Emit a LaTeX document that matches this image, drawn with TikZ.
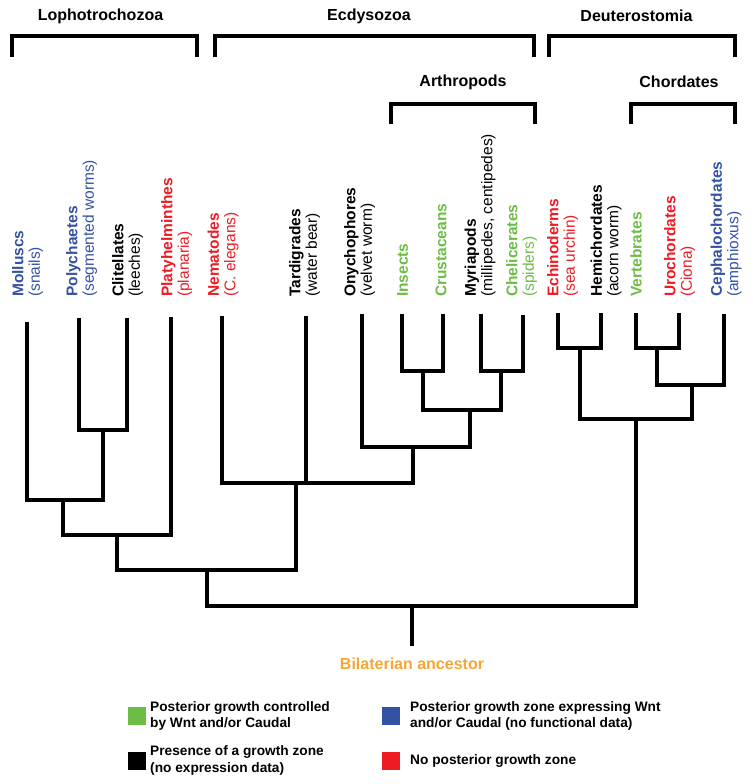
\documentclass[tikz,border=0pt]{standalone}
\usepackage{fontspec}
\setmainfont{Liberation Sans}
\usepackage{tikz}

\definecolor{growgreen}{RGB}{108,189,69}
\definecolor{growblue}{RGB}{52,82,163}
\definecolor{growred}{RGB}{237,28,36}
\definecolor{ancestor}{RGB}{246,166,52}

\begin{document}
\begin{tikzpicture}[x=1pt,y=-1pt,
	branch/.style={line width=4pt},
	bracket/.style={line width=4.5pt},
	taxon/.style={rotate=90,anchor=west,align=left,inner sep=0pt,font=\fontsize{15.5}{16.5}\selectfont},
	clade/.style={inner sep=0pt,font=\bfseries\fontsize{16}{19}\selectfont},
	key/.style={minimum size=18pt,inner sep=0pt},
	keytext/.style={anchor=west,align=left,inner sep=0pt,font=\bfseries\fontsize{13.7}{16.5}\selectfont}]

	\useasboundingbox (0,0) rectangle (752,784);

	% clade brackets
	\node[clade] (lophoL) at (100.5,16) {Lophotrochozoa};
	\node[clade] (ecdL) at (369,16) {Ecdysozoa};
	\node[clade] (deutL) at (636.5,16) {Deuterostomia};
	\node[clade] (arthL) at (463,82) {Arthropods};
	\node[clade] (chordL) at (679,82) {Chordates};
	\draw[bracket] (12,57) -- (12,36) -- (197,36) -- (197,57);
	\draw[bracket] (215,57) -- (215,36) -- (534,36) -- (534,57);
	\draw[bracket] (549,57) -- (549,36) -- (735,36) -- (735,57);
	\draw[bracket] (391,124) -- (391,104) -- (535,104) -- (535,124);
	\draw[bracket] (631,124) -- (631,104) -- (735,104) -- (735,124);

	% taxa
	\node[taxon,text=growblue] (molT) at (27.5,297) {\textbf{Molluscs}\\(snails)};
	\node[taxon,text=growblue] (polT) at (81.7,297) {\textbf{Polychaetes}\\(segmented worms)};
	\node[taxon] (cliT) at (127.5,297) {\textbf{Clitellates}\\(leeches)};
	\node[taxon,text=growred] (plaT) at (176.7,297) {\textbf{Platyhelminthes}\\(planaria)};
	\node[taxon,text=growred] (nemT) at (223,297) {\textbf{Nematodes}\\(C. elegans)};
	\node[taxon] (tarT) at (304.5,297) {\textbf{Tardigrades}\\(water bear)};
	\node[taxon] (onyT) at (359.5,297) {\textbf{Onychophores}\\(velvet worm)};
	\node[taxon,text=growgreen] (insT) at (402.7,297) {\textbf{Insects}};
	\node[taxon,text=growgreen] (cruT) at (441,297) {\textbf{Crustaceans}};
	\node[taxon] (myrT) at (480,297) {\textbf{Myriapods}\\(millipedes, centipedes)};
	\node[taxon,text=growgreen] (cheT) at (521.5,297) {\textbf{Chelicerates}\\(spiders)};
	\node[taxon,text=growred] (echT) at (562.5,297) {\textbf{Echinoderms}\\(sea urchin)};
	\node[taxon] (hemT) at (606,297) {\textbf{Hemichordates}\\(acorn worm)};
	\node[taxon,text=growgreen] (verT) at (636,297) {\textbf{Vertebrates}};
	\node[taxon,text=growred] (uroT) at (679.5,297) {\textbf{Urochordates}\\(Ciona)};
	\node[taxon,text=growblue] (cepT) at (726,297) {\textbf{Cephalochordates}\\(amphioxus)};

	% leaf tips
	\coordinate (mol) at (27,322);
	\coordinate (pol) at (79.3,318);
	\coordinate (cli) at (127,318);
	\coordinate (pla) at (171,317);
	\coordinate (nem) at (222,316);
	\coordinate (tar) at (306,316);
	\coordinate (ony) at (362,314);
	\coordinate (ins) at (402,314);
	\coordinate (cru) at (443,314);
	\coordinate (myr) at (481,314);
	\coordinate (che) at (523,315);
	\coordinate (ech) at (558,313);
	\coordinate (hem) at (601,313);
	\coordinate (ver) at (636,313);
	\coordinate (uro) at (679,313);
	\coordinate (cep) at (724,314);

	% joins
	\coordinate (pc) at (103.3,430);
	\coordinate (mpc) at (63.3,500);
	\coordinate (lopho) at (116.7,535);
	\coordinate (ic) at (423,371);
	\coordinate (mc) at (501,371);
	\coordinate (arth) at (470,410);
	\coordinate (oa) at (413,447);
	\coordinate (ecd) at (296,483);
	\coordinate (proto) at (206.7,570);
	\coordinate (eh) at (580,348);
	\coordinate (vu) at (656.7,348);
	\coordinate (chord) at (691.7,385);
	\coordinate (deut) at (636,419);
	\coordinate (root) at (412,606);
	\coordinate (base) at (412,646);

	\draw[branch] (pol) |- (pc) -| (cli);
	\draw[branch] (mol) |- (mpc) -| (pc);
	\draw[branch] (mpc) |- (lopho) -| (pla);
	\draw[branch] (ins) |- (ic) -| (cru);
	\draw[branch] (myr) |- (mc) -| (che);
	\draw[branch] (ic) |- (arth) -| (mc);
	\draw[branch] (ony) |- (oa) -| (arth);
	\draw[branch] (nem) |- (ecd) -| (oa);
	\draw[branch] (tar) -- (tar |- ecd);
	\draw[branch] (lopho) |- (proto) -| (ecd);
	\draw[branch] (ech) |- (eh) -| (hem);
	\draw[branch] (ver) |- (vu) -| (uro);
	\draw[branch] (vu) |- (chord) -| (cep);
	\draw[branch] (eh) |- (deut) -| (chord);
	\draw[branch] (proto) |- (root) -| (deut);
	\draw[branch] (root) -- (base);

	\node[inner sep=0pt,text=ancestor,font=\bfseries\fontsize{16}{19}\selectfont] (anc) at (412,664) {Bilaterian ancestor};

	% legend
	\node[key,fill=growgreen] (kgreen) at (137,716) {};
	\node[key,fill=black] (kblack) at (137,760.5) {};
	\node[key,fill=growblue] (kblue) at (391,716) {};
	\node[key,fill=growred] (kred) at (391,760.5) {};
	\node[keytext] (tgreen) at (150,716) {Posterior growth controlled\\by Wnt and/or Caudal};
	\node[keytext] (tblack) at (150,760.5) {Presence of a growth zone\\(no expression data)};
	\node[keytext] (tblue) at (410,716) {Posterior growth zone expressing Wnt\\and/or Caudal (no functional data)};
	\node[keytext] (tred) at (410,760.5) {No posterior growth zone};

\end{tikzpicture}
\end{document}
